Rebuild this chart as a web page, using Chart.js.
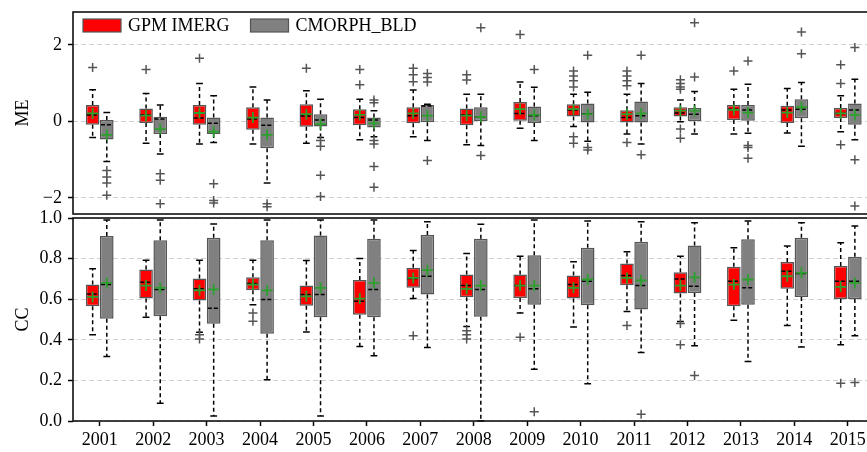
<!DOCTYPE html>
<html>
<head>
<meta charset="utf-8">
<script src="https://cdn.jsdelivr.net/npm/chart.js@4.4.0/dist/chart.umd.min.js"></script>
<style>
  html, body { margin: 0; padding: 0; background: #fff; overflow: hidden; width: 867px; height: 452px; }
  .panel { position: absolute; left: 0; width: 880px; }
  #top { top: 0; height: 216px; }
  #bot { top: 200px; height: 252px; }
</style>
</head>
<body>
<div class="panel" id="top"><canvas id="me"></canvas></div>
<div class="panel" id="bot"><canvas id="cc"></canvas></div>
<script>
const years = ['2001', '2002', '2003', '2004', '2005', '2006', '2007', '2008',
  '2009', '2010', '2011', '2012', '2013', '2014', '2015']
const seriesNames = ['GPM IMERG', 'CMORPH_BLD']
const meTicks = [-2, 0, 2]
const ccTicks = [0, 0.2, 0.4, 0.6, 0.8, 1.0]

// ME - GPM IMERG
const meImergQ1 = [-0.09, -0.04, -0.09, -0.22, -0.14, -0.10, -0.05, -0.10, 0.02, 0.13, -0.03, 0.13, 0.04, -0.04, 0.09]
const meImergQ3 = [0.43, 0.34, 0.43, 0.37, 0.45, 0.32, 0.37, 0.34, 0.51, 0.45, 0.29, 0.37, 0.43, 0.41, 0.35]
const meImergMed = [0.17, 0.17, 0.09, 0.06, 0.14, 0.10, 0.15, 0.17, 0.21, 0.30, 0.10, 0.22, 0.32, 0.30, 0.21]
const meImergMean = [0.21, 0.15, 0.22, 0.10, 0.19, 0.17, 0.21, 0.15, 0.32, 0.32, 0.19, 0.28, 0.30, 0.23, 0.21]
const meImergLo = [-0.42, -0.57, -0.59, -0.59, -0.57, -0.48, -0.40, -0.61, -0.18, -0.13, -0.33, -0.01, -0.33, -0.30, -0.27]
const meImergHi = [0.83, 0.73, 0.99, 0.90, 0.80, 0.58, 0.82, 0.71, 1.03, 0.71, 0.71, 0.56, 0.84, 0.86, 0.67]
const meImergOut = [[1.41], [1.36], [1.65], [], [1.39], [1.36, 0.96], [1.39, 1.22, 1.04], [1.22, 1.08],
  [2.27], [1.32, 1.19, 1.06, 0.90, -0.40, -0.57], [1.32, 1.19, 1.06, 0.93, -0.55],
  [1.09, 0.99, 0.90, 0.84, -0.20, -0.44], [1.32], [], [1.48, 0.99, -0.61]]

// ME - CMORPH_BLD
const meCmorphQ1 = [-0.47, -0.33, -0.33, -0.70, -0.13, -0.16, -0.02, 0.00, -0.04, -0.03, -0.03, 0.00, 0.02, 0.08, -0.09]
const meCmorphQ3 = [0.04, 0.12, 0.10, 0.10, 0.19, 0.10, 0.43, 0.37, 0.39, 0.47, 0.52, 0.35, 0.43, 0.58, 0.47]
const meCmorphMed = [-0.09, 0.06, -0.05, -0.10, 0.04, 0.04, 0.40, 0.12, 0.15, 0.20, 0.15, 0.19, 0.30, 0.32, 0.30]
const meCmorphMean = [-0.35, -0.20, -0.27, -0.35, -0.07, -0.05, 0.15, 0.12, 0.17, 0.19, 0.21, 0.28, 0.23, 0.37, 0.17]
const meCmorphLo = [-1.05, -0.85, -0.55, -1.61, -0.42, -0.40, -0.50, -0.63, -0.50, -0.52, -0.59, -0.33, -0.31, -0.65, -0.48]
const meCmorphHi = [0.23, 0.43, 0.67, 0.56, 0.58, 0.28, 0.45, 0.71, 0.89, 0.76, 0.99, 0.78, 0.97, 1.02, 1.10]
const meCmorphOut = [[-1.28, -1.45, -1.61, -1.93], [-1.37, -1.54, -2.15], [-1.63, -2.07, -2.13], [-2.15, -2.23],
  [-0.50, -0.65, -1.41, -1.96], [0.56, 0.49, -0.50, -0.59, -1.18, -1.72], [1.25, 1.15, 1.03, -1.02],
  [2.45, -0.89], [1.36], [1.73, -0.68, -0.75], [1.73, -0.87], [2.58, 1.16], [1.58, -0.63, -0.68, -0.96],
  [2.34, 1.77], [1.93, -1.00, -2.21]]

// CC - GPM IMERG
const ccImergQ1 = [0.565, 0.603, 0.593, 0.644, 0.568, 0.524, 0.656, 0.610, 0.606, 0.603, 0.669, 0.628, 0.565, 0.651, 0.601]
const ccImergQ3 = [0.672, 0.746, 0.702, 0.708, 0.667, 0.694, 0.755, 0.722, 0.722, 0.717, 0.776, 0.733, 0.760, 0.783, 0.763]
const ccImergMed = [0.626, 0.684, 0.651, 0.677, 0.623, 0.590, 0.702, 0.667, 0.667, 0.672, 0.717, 0.700, 0.689, 0.738, 0.689]
const ccImergMean = [0.611, 0.667, 0.644, 0.672, 0.614, 0.603, 0.705, 0.651, 0.667, 0.656, 0.705, 0.667, 0.672, 0.713, 0.661]
const ccImergLo = [0.425, 0.511, 0.437, 0.573, 0.438, 0.367, 0.603, 0.466, 0.532, 0.463, 0.540, 0.490, 0.496, 0.470, 0.376]
const ccImergHi = [0.750, 0.792, 0.792, 0.792, 0.791, 0.801, 0.840, 0.825, 0.812, 0.784, 0.834, 0.812, 0.854, 0.862, 0.878]
const ccImergOut = [[], [], [0.425, 0.404], [0.532, 0.491], [], [], [0.42], [0.445, 0.425, 0.404],
  [0.412], [], [0.471], [0.48, 0.376], [], [], [0.186]]

// CC - CMORPH_BLD
const ccCmorphQ1 = [0.504, 0.516, 0.479, 0.430, 0.511, 0.511, 0.623, 0.513, 0.573, 0.570, 0.549, 0.631, 0.573, 0.611, 0.601]
const ccCmorphQ3 = [0.911, 0.890, 0.903, 0.891, 0.914, 0.898, 0.916, 0.898, 0.816, 0.854, 0.883, 0.865, 0.895, 0.903, 0.809]
const ccCmorphMed = [0.672, 0.648, 0.555, 0.598, 0.623, 0.648, 0.713, 0.648, 0.651, 0.689, 0.667, 0.664, 0.656, 0.727, 0.689]
const ccCmorphMean = [0.680, 0.656, 0.648, 0.643, 0.656, 0.680, 0.743, 0.667, 0.667, 0.697, 0.692, 0.708, 0.697, 0.730, 0.680]
const ccCmorphLo = [0.318, 0.087, 0.025, 0.203, 0.025, 0.321, 0.362, 0.000, 0.255, 0.183, 0.338, 0.371, 0.293, 0.364, 0.420]
const ccCmorphHi = [0.990, 0.990, 0.970, 0.990, 0.990, 0.990, 0.982, 0.969, 0.990, 0.985, 0.982, 0.977, 0.985, 0.977, 0.960]
const ccCmorphOut = [[], [], [], [], [], [], [], [], [0.046], [], [0.033], [0.224], [], [], [0.19]]

const FONT = { family: "'Liberation Serif', 'Times New Roman', serif", size: 18 }
Chart.defaults.font.family = FONT.family
Chart.defaults.font.size = FONT.size
Chart.defaults.color = '#000'

function boxSet(label, color, q1, q3, med, mean, lo, hi, out) {
  return {
    label,
    data: q1.map((v, i) => [v, q3[i]]),
    backgroundColor: color,
    borderColor: '#555',
    borderWidth: 1.5,
    borderSkipped: false,
    categoryPercentage: 0.53,
    barPercentage: 0.96,
    stats: { med, mean, lo, hi, out }
  }
}

function cross(ctx, x, y, r) {
  ctx.beginPath()
  ctx.moveTo(x - r, y); ctx.lineTo(x + r, y)
  ctx.moveTo(x, y - r); ctx.lineTo(x, y + r)
  ctx.stroke()
}

function seg(ctx, x1, y1, x2, y2) {
  ctx.beginPath()
  ctx.moveTo(x1, y1); ctx.lineTo(x2, y2)
  ctx.stroke()
}

// whiskers, caps, medians, means and fliers on top of the bars
const boxPlugin = {
  id: 'boxplot',
  afterDatasetsDraw(chart) {
    const ctx = chart.ctx
    const y = chart.scales.y
    const a = chart.chartArea
    ctx.save()
    ctx.beginPath()
    ctx.rect(a.left, a.top - 2, a.right - a.left, a.bottom - a.top + 4)
    ctx.clip()
    chart.data.datasets.forEach((ds, d) => {
      const s = ds.stats
      chart.getDatasetMeta(d).data.forEach((bar, i) => {
        const x = bar.x
        const half = bar.width / 2
        const q1 = y.getPixelForValue(ds.data[i][0])
        const q3 = y.getPixelForValue(ds.data[i][1])
        const lo = y.getPixelForValue(s.lo[i])
        const hi = y.getPixelForValue(s.hi[i])
        ctx.strokeStyle = '#000'
        ctx.lineWidth = 1.5
        ctx.setLineDash([4, 3])
        seg(ctx, x, q1, x, lo)
        seg(ctx, x, q3, x, hi)
        ctx.setLineDash([])
        seg(ctx, x - half / 2, lo, x + half / 2, lo)
        seg(ctx, x - half / 2, hi, x + half / 2, hi)
        ctx.setLineDash([4, 2])
        const m = y.getPixelForValue(s.med[i])
        seg(ctx, x - half + 1, m, x + half - 1, m)
        ctx.setLineDash([])
        ctx.strokeStyle = '#555'
        s.out[i].forEach(v => cross(ctx, x, y.getPixelForValue(v), 4.5))
        ctx.strokeStyle = '#2ca02c'
        ctx.lineWidth = 1.8
        cross(ctx, x, y.getPixelForValue(s.mean[i]), 5.5)
      })
    })
    ctx.restore()
  },
  afterDraw(chart) {
    const ctx = chart.ctx
    const a = chart.chartArea
    ctx.save()
    ctx.strokeStyle = '#111'
    ctx.lineWidth = 1.6
    ctx.strokeRect(a.left, a.top, a.right - a.left, a.bottom - a.top)
    ctx.restore()
  }
}

// legend drawn inside the upper panel, top left
const legendPlugin = {
  id: 'innerLegend',
  afterDraw(chart) {
    const ctx = chart.ctx
    const a = chart.chartArea
    ctx.save()
    ctx.font = FONT.size + 'px ' + FONT.family
    ctx.textBaseline = 'middle'
    let x = a.left + 10
    const yMid = a.top + 13.5
    chart.data.datasets.forEach(ds => {
      ctx.fillStyle = ds.backgroundColor
      ctx.fillRect(x, yMid - 6.5, 38, 13)
      ctx.strokeStyle = '#555'
      ctx.lineWidth = 1.2
      ctx.strokeRect(x, yMid - 6.5, 38, 13)
      ctx.fillStyle = '#000'
      const tx = x + 45
      ctx.fillText(ds.label, tx, yMid + 1)
      x = tx + ctx.measureText(ds.label).width + 21
    })
    ctx.restore()
  }
}

function yScale(min, max, tickList, fmt, title) {
  return {
    min, max,
    afterFit: s => { s.width = 73; s.paddingTop = 0; s.paddingBottom = 0 },
    afterBuildTicks: s => { s.ticks = tickList.map(v => ({ value: v })) },
    ticks: { callback: fmt, padding: 6, color: '#000', font: FONT },
    grid: { color: '#d0d0d0', lineWidth: 1, tickColor: '#000', tickLength: 5, tickWidth: 1.5, tickBorderDash: [] },
    border: { display: false, dash: [5, 3] },
    title: { display: true, text: title, color: '#000', font: FONT, padding: { top: 12, bottom: 0 } }
  }
}

function makeChart(id, sets, y, showX, padding) {
  return new Chart(document.getElementById(id), {
    type: 'bar',
    data: { labels: years, datasets: sets },
    options: {
      responsive: true,
      maintainAspectRatio: false,
      animation: false,
      devicePixelRatio: 1,
      layout: { padding },
      plugins: { legend: { display: false }, tooltip: { enabled: false } },
      scales: {
        x: {
          display: showX,
          offset: true,
          afterFit: s => {
            if (!s.options.display) return
            s.height = 31; s.paddingLeft = 0; s.paddingRight = 0
          },
          ticks: { color: '#000', font: FONT, padding: 3, maxRotation: 0, autoSkip: false },
          grid: { drawOnChartArea: false, offset: false, tickColor: '#000', tickLength: 5, tickWidth: 1.5 },
          border: { display: false }
        },
        y
      }
    },
    plugins: showX ? [boxPlugin] : [boxPlugin, legendPlugin]
  })
}

makeChart('me', [
  boxSet(seriesNames[0], '#ff0000', meImergQ1, meImergQ3, meImergMed, meImergMean, meImergLo, meImergHi, meImergOut),
  boxSet(seriesNames[1], '#808080', meCmorphQ1, meCmorphQ3, meCmorphMed, meCmorphMean, meCmorphLo, meCmorphHi, meCmorphOut)
], yScale(-2.42, 2.86, meTicks, v => v < 0 ? '\u2212' + Math.abs(v) : String(v), 'ME'),
  false, { top: 12, bottom: 2, left: 0, right: 5.5 })

makeChart('cc', [
  boxSet(seriesNames[0], '#ff0000', ccImergQ1, ccImergQ3, ccImergMed, ccImergMean, ccImergLo, ccImergHi, ccImergOut),
  boxSet(seriesNames[1], '#808080', ccCmorphQ1, ccCmorphQ3, ccCmorphMed, ccCmorphMean, ccCmorphLo, ccCmorphHi, ccCmorphOut)
], yScale(0, 1, ccTicks, v => v.toFixed(1), 'CC'),
  true, { top: 18, bottom: 0, left: 0, right: 5.5 })
</script>
</body>
</html>
